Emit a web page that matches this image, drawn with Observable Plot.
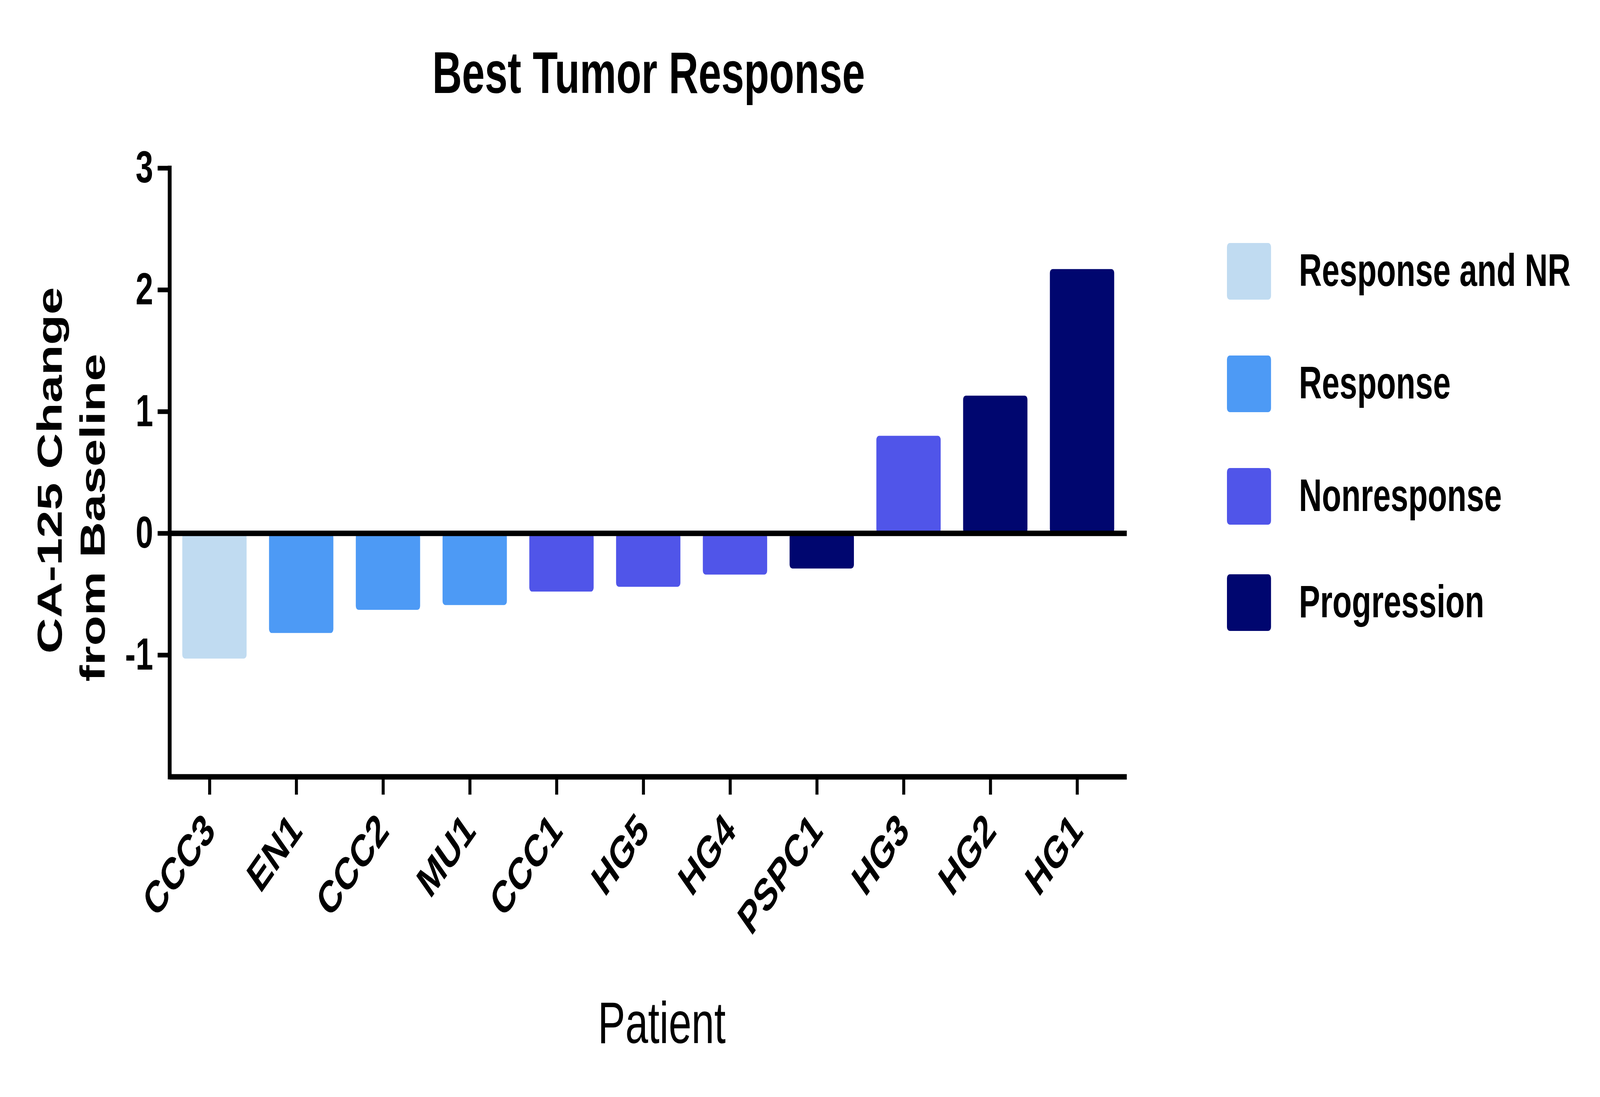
<!DOCTYPE html>
<html>
<head>
<meta charset="utf-8">
<script src="https://cdn.jsdelivr.net/npm/d3@7"></script>
<script src="https://cdn.jsdelivr.net/npm/@observablehq/plot@0.6"></script>
<style>
  html, body { margin: 0; padding: 0; background: #fff; overflow: hidden; }
  #outer { position: relative; overflow: hidden; background: #fff; }
  #wrap { position: absolute; left: 0; top: 0; width: 5846px; height: 2808px; background: #fff; transform-origin: 0 0; font-family: "Liberation Sans", Arial, sans-serif; color: #000; }
  #wrap svg { position: absolute; left: 0; top: 0; max-width: none !important; }
  .lbl { position: absolute; white-space: nowrap; line-height: 1; }
</style>
</head>
<body>
<div id="outer"><div id="wrap"></div></div>
<script>
// ---- data ----
const patients = ["CCC3", "EN1", "CCC2", "MU1", "CCC1", "HG5", "HG4", "PSPC1", "HG3", "HG2", "HG1"];
const changes = [-1.03, -0.82, -0.63, -0.59, -0.48, -0.44, -0.34, -0.29, 0.80, 1.13, 2.17];
const responses = ["Response and NR", "Response", "Response", "Response", "Nonresponse", "Nonresponse", "Nonresponse", "Progression", "Nonresponse", "Progression", "Progression"];
const categories = ["Response and NR", "Response", "Nonresponse", "Progression"];
const colors = ["#c0dbf1", "#4d9af5", "#5055e9", "#00066f"];
const yTicks = [-1, 0, 1, 2, 3];
const yDomain = [-2, 3];
const titleText = "Best Tumor Response";
const yTitleLines = ["CA-125 Change", "from Baseline"];
const xTitleText = "Patient";

const rows = patients.map((p, i) => ({patient: p, change: changes[i], response: responses[i]}));

const W = 5846, H = 2808;
const mL = 620, mR = 1729, mT = 430, mB = 820;

const yAxisLine = (...args) => {
  const dims = args.find(a => a && typeof a === "object" && "marginLeft" in a && "height" in a);
  const g = d3.create("svg:g");
  g.append("line")
    .attr("x1", dims.marginLeft).attr("x2", dims.marginLeft)
    .attr("y1", dims.marginTop - 6).attr("y2", dims.height - dims.marginBottom + 7)
    .attr("stroke", "#000").attr("stroke-width", 14);
  return g.node();
};

const chart = Plot.plot({
  width: W,
  height: H,
  marginLeft: mL,
  marginRight: mR,
  marginTop: mT,
  marginBottom: mB,
  style: {fontFamily: "Liberation Sans, Arial, sans-serif", background: "#fff", color: "#000", overflow: "visible"},
  x: {domain: patients, paddingInner: 0.26, paddingOuter: 0.13, label: null},
  y: {domain: yDomain, label: null},
  color: {domain: categories, range: colors},
  marks: [
    Plot.barY(rows, {x: "patient", y: "change", fill: "response", rx: 10}),
    Plot.ruleY([0], {stroke: "#000", strokeWidth: 14}),
    Plot.ruleY([yDomain[0]], {stroke: "#000", strokeWidth: 14}),
    yAxisLine,
    Plot.axisY({
      ticks: yTicks, tickSize: 44, tickPadding: 17, tickFormat: d => String(d),
      strokeWidth: 12, fontSize: 115, fontWeight: "bold", label: null
    }),
    Plot.axisX({
      tickSize: 46, tickPadding: 71, tickRotate: -45, textAnchor: "end", lineAnchor: "middle",
      dx: -18, strokeWidth: 11, fontSize: 115, fontWeight: "bold", label: null
    })
  ]
});
chart.setAttribute("width", W);
chart.setAttribute("height", H);
chart.style.width = W + "px";
chart.style.height = H + "px";

const wrap = document.getElementById("wrap");
wrap.appendChild(chart);

function addLabel(text, css) {
  const d = document.createElement("div");
  d.className = "lbl";
  d.textContent = text;
  Object.assign(d.style, css);
  wrap.appendChild(d);
  return d;
}

// title
addLabel(titleText, {left: "2370px", top: "111px", transform: "translateX(-50%)", fontSize: "150px", fontWeight: "bold"});
// y-axis title (two lines)
addLabel(yTitleLines[0], {left: "182px", top: "1204px", transform: "translate(-50%,-50%) rotate(-90deg)", fontSize: "127px", fontWeight: "bold"});
addLabel(yTitleLines[1], {left: "339px", top: "1325px", transform: "translate(-50%,-50%) rotate(-90deg)", fontSize: "127px", fontWeight: "bold"});
// x-axis title
addLabel(xTitleText, {left: "2418px", top: "2543px", transform: "translateX(-50%)", fontSize: "150px", fontWeight: "normal"});

// legend
const legendCenters = [694, 982, 1270, 1542];
categories.forEach((c, i) => {
  const sw = document.createElement("div");
  Object.assign(sw.style, {
    position: "absolute", left: "4483px", top: (legendCenters[i] - 72) + "px",
    width: "161px", height: "145px", background: colors[i], borderRadius: "10px"
  });
  wrap.appendChild(sw);
  addLabel(c, {left: "4746px", top: (legendCenters[i] + 38 - 98) + "px", fontSize: "116px", fontWeight: "bold"});
});

// fill the browser window with the 5846x2808 drawing
function fit() {
  const sx = window.innerWidth / W;
  const sy = window.innerHeight / H;
  wrap.style.transform = `scale(${sx}, ${sy})`;
  const outer = document.getElementById("outer");
  outer.style.width = (W * sx) + "px";
  outer.style.height = (H * sy) + "px";
}
fit();
window.addEventListener("resize", fit);
</script>
</body>
</html>
